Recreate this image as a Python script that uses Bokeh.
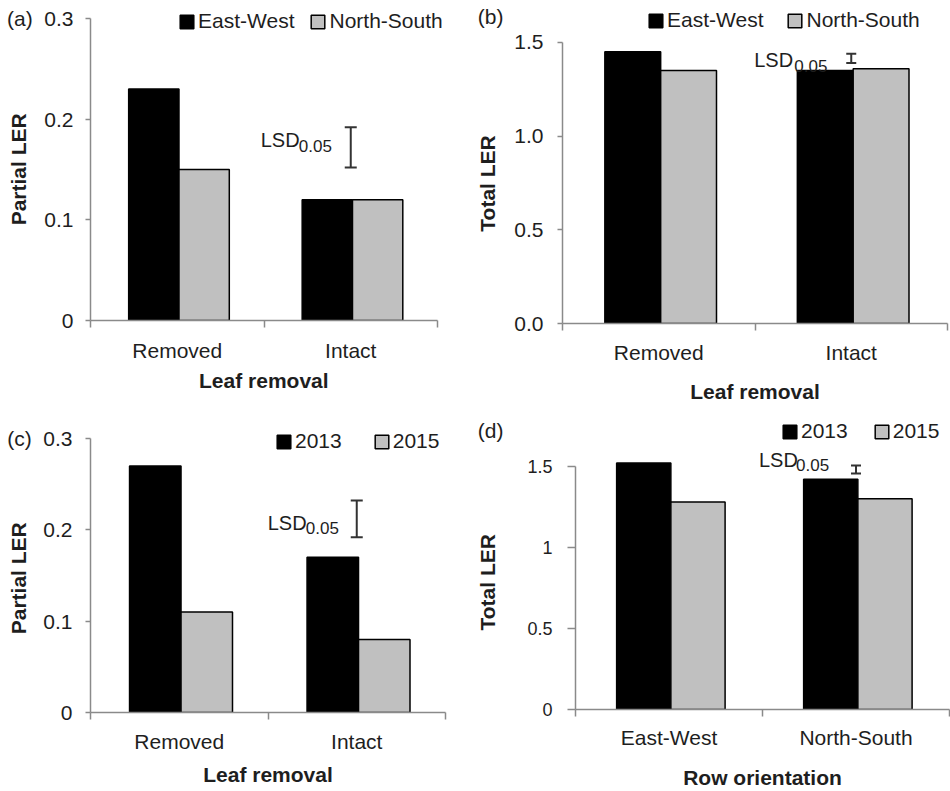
from bokeh.plotting import figure
from bokeh.models import (Range1d, FixedTicker, Legend, LegendItem, Whisker,
                          TeeHead, Label, ColumnDataSource, LinearAxis)
from bokeh.layouts import row, column
from bokeh.embed import file_html
from bokeh.resources import INLINE

FONT = "Liberation Sans"

# ---------------- data ----------------
leaf_categories = ["Removed", "Intact"]
row_categories = ["East-West", "North-South"]

orient_series = ["East-West", "North-South"]
year_series = ["2013", "2015"]

# (a) Partial LER by leaf removal, per row orientation
a_east_west = [0.23, 0.12]
a_north_south = [0.15, 0.12]
a_lsd = [0.152, 0.192]          # lower, upper end of the LSD bar

# (b) Total LER by leaf removal, per row orientation
b_east_west = [1.45, 1.35]
b_north_south = [1.35, 1.36]
b_lsd = [1.39, 1.44]

# (c) Partial LER by leaf removal, per year
c_2013 = [0.27, 0.17]
c_2015 = [0.11, 0.08]
c_lsd = [0.192, 0.232]

# (d) Total LER by row orientation, per year
d_2013 = [1.52, 1.42]
d_2015 = [1.28, 1.30]
d_lsd = [1.455, 1.505]

# y ticks
a_yticks = [0, 0.1, 0.2, 0.3]
a_ylabels = ["0", "0.1", "0.2", "0.3"]
b_yticks = [0, 0.5, 1, 1.5]
b_ylabels = ["0.0", "0.5", "1.0", "1.5"]
c_yticks = [0, 0.1, 0.2, 0.3]
c_ylabels = ["0", "0.1", "0.2", "0.3"]
d_yticks = [0, 0.5, 1, 1.5]
d_ylabels = ["0", "0.5", "1", "1.5"]

BLACK = "#000000"
GREY = "#c0c0c0"
AXIS = "#8a8a8a"
TEXT = "#1e1e1e"
BW = 0.29
SHIFT = 0.01
NB = "\u00a0"


def make_panel(tag, cats, names, s1, s2, lsd, yticks, ylabels, ytitle, xtitle, cfg):
    L, R, T, B = cfg["borders"]
    ymax = yticks[-1]
    p = figure(width=cfg["w"], height=cfg["h"], output_backend="svg", toolbar_location=None,
               title=None, x_range=Range1d(0, cfg["x_end"]), y_range=Range1d(0, cfg["y_top"]),
               min_border_left=L, min_border_right=R, min_border_top=T, min_border_bottom=B)
    p.outline_line_color = None
    p.xgrid.visible = False
    p.ygrid.visible = False
    p.background_fill_color = "white"
    p.border_fill_color = "white"

    centers = [i + 0.5 for i in range(len(cats))]
    src = ColumnDataSource(dict(
        x1=[c + SHIFT - BW / 2 for c in centers], x2=[c + SHIFT + BW / 2 for c in centers],
        s1=s1, s2=s2))
    r1 = p.vbar(x="x1", top="s1", width=BW, source=src, fill_color=BLACK,
                line_color=BLACK, line_width=1.5)
    r2 = p.vbar(x="x2", top="s2", width=BW, source=src, fill_color=GREY,
                line_color=BLACK, line_width=1.5)

    # x axis: labels at category centres, tick marks at category boundaries
    xa = p.xaxis[0]
    xa.ticker = FixedTicker(ticks=centers, minor_ticks=list(range(len(cats) + 1)))
    xa.major_label_overrides = {c: n for c, n in zip(centers, cats)}
    xa.bounds = (0, len(cats))
    xa.major_tick_line_color = None
    xa.major_tick_out = 7
    xa.major_tick_in = 0
    xa.minor_tick_out = 7
    xa.minor_tick_in = 0
    xa.minor_tick_line_color = AXIS
    xa.minor_tick_line_width = 1.5
    xa.axis_line_color = AXIS
    xa.axis_line_width = 1.5
    xa.major_label_text_font = FONT
    xa.major_label_text_font_size = "21px"
    xa.major_label_text_color = TEXT
    xa.major_label_standoff = cfg["x_std"][0]
    xa.axis_label = xtitle + NB * cfg.get("xtitle_pad", 0)
    xa.axis_label_text_font = FONT
    xa.axis_label_text_font_size = "21px"
    xa.axis_label_text_font_style = "bold"
    xa.axis_label_text_color = TEXT
    xa.axis_label_standoff = cfg["x_std"][1]

    ya = p.yaxis[0]
    ya.ticker = FixedTicker(ticks=yticks, minor_ticks=[])
    labels = list(ylabels)
    if cfg["tag_mode"] == "tick":
        labels[-1] = tag + NB + NB + labels[-1]
    ya.major_label_overrides = {t: l for t, l in zip(yticks, labels)}
    ya.bounds = (0, ymax)
    ya.major_tick_out = cfg["ytick"]
    ya.major_tick_in = 0
    ya.major_tick_line_color = AXIS
    ya.major_tick_line_width = 1.5
    ya.minor_tick_line_color = None
    ya.axis_line_color = AXIS
    ya.axis_line_width = 1.5
    ya.major_label_text_font = FONT
    ya.major_label_text_font_size = cfg["ylab_size"]
    ya.major_label_text_color = TEXT
    ya.major_label_standoff = cfg["y_std"][0]

    title_axis = ya
    if cfg["tag_mode"] == "axis":
        # extra left axis that carries only the panel tag and the axis title
        tag_y = cfg["tag_y"]
        ta = LinearAxis(ticker=FixedTicker(ticks=[tag_y], minor_ticks=[]),
                        major_label_overrides={tag_y: tag},
                        axis_line_color=None, major_tick_line_color=None,
                        minor_tick_line_color=None, major_tick_out=0, major_tick_in=0,
                        minor_tick_out=0, minor_tick_in=0,
                        major_label_text_font=FONT, major_label_text_font_size="21px",
                        major_label_text_color=TEXT,
                        major_label_standoff=cfg["tag_std"])
        p.add_layout(ta, "left")
        title_axis = ta
    title_axis.axis_label = ytitle + NB * cfg["title_pad"]
    title_axis.axis_label_text_font = FONT
    title_axis.axis_label_text_font_size = "21px"
    title_axis.axis_label_text_font_style = "bold"
    title_axis.axis_label_text_color = TEXT
    title_axis.axis_label_standoff = cfg["y_std"][1]

    # LSD bar, drawn at the centre of the second category
    lc = cfg["lsd"]
    base = centers[1]
    wsrc = ColumnDataSource(dict(base=[base], lower=[lsd[0]], upper=[lsd[1]]))
    w = Whisker(source=wsrc, base="base", lower="lower", upper="upper", dimension="height",
                line_color="#333333", line_width=2,
                upper_head=TeeHead(size=lc["cap"], line_color="#333333", line_width=2),
                lower_head=TeeHead(size=lc["cap"], line_color="#333333", line_width=2))
    p.add_layout(w)
    p.add_layout(Label(x=base, y=lc["y_main"], x_offset=lc["dx_main"], text="LSD",
                       text_font=FONT, text_font_size="20px", text_color=TEXT,
                       text_align="left", text_baseline="alphabetic"))
    p.add_layout(Label(x=base, y=lc["y_sub"], x_offset=lc["dx_sub"], text="0.05",
                       text_font=FONT, text_font_size="17px", text_color=TEXT,
                       text_align="left", text_baseline="alphabetic"))

    leg = Legend(items=[LegendItem(label=names[0], renderers=[r1]),
                        LegendItem(label=names[1], renderers=[r2])],
                 location=cfg["legend_loc"], orientation="horizontal",
                 glyph_width=17, glyph_height=17, label_standoff=3, spacing=cfg["spacing"],
                 padding=0, margin=0, border_line_color=None, background_fill_alpha=0,
                 label_text_font=FONT, label_text_font_size="21px", label_text_color=TEXT)
    p.add_layout(leg)
    return p


cfg_a = dict(w=472, h=405, borders=(90, 12, 6, 85), y_top=0.31192, x_end=2.13256,
             x_std=(11, 4), xtitle_pad=4, y_std=(12, -26), ytick=5, ylab_size="21px",
             tag_mode="tick", title_pad=2,
             legend_loc=(88, 287), spacing=15,
             lsd=dict(cap=12, y_main=0.1791, y_sub=0.1736, dx_main=-90, dx_sub=-52))

cfg_b = dict(w=478, h=405, borders=(85, 3, 8, 82), y_top=1.68149, x_end=2,
             x_std=(10, 13), y_std=(14, -24), ytick=5, ylab_size="21px",
             tag_mode="axis", tag_y=1.6388, tag_std=8, title_pad=6,
             legend_loc=(85, 291), spacing=23,
             lsd=dict(cap=10, y_main=1.404, y_sub=1.377, dx_main=-97, dx_sub=-57))

cfg_c = dict(w=472, h=386, borders=(90, 27, 21, 79), y_top=0.31314, x_end=2,
             x_std=(10, 7), y_std=(13, -26), ytick=5, ylab_size="21px",
             tag_mode="tick", title_pad=3,
             legend_loc=(185, 259), spacing=31,
             lsd=dict(cap=12, y_main=0.2070, y_sub=0.2015, dx_main=-89, dx_sub=-51))

cfg_d = dict(w=478, h=386, borders=(98, 1, 3, 81), y_top=1.85656, x_end=2,
             x_std=(9, 14), y_std=(15, -24), ytick=8, ylab_size="18px",
             tag_mode="axis", tag_y=1.7213, tag_std=21, title_pad=8,
             legend_loc=(206, 266), spacing=25,
             lsd=dict(cap=10, y_main=1.5368, y_sub=1.5061, dx_main=-97, dx_sub=-60))

pa = make_panel("(a)", leaf_categories, orient_series, a_east_west, a_north_south, a_lsd,
                a_yticks, a_ylabels, "Partial LER", "Leaf removal", cfg_a)
pb = make_panel("(b)", leaf_categories, orient_series, b_east_west, b_north_south, b_lsd,
                b_yticks, b_ylabels, "Total LER", "Leaf removal", cfg_b)
pc = make_panel("(c)", leaf_categories, year_series, c_2013, c_2015, c_lsd,
                c_yticks, c_ylabels, "Partial LER", "Leaf removal", cfg_c)
pd_ = make_panel("(d)", row_categories, year_series, d_2013, d_2015, d_lsd,
                 d_yticks, d_ylabels, "Total LER", "Row orientation", cfg_d)

layout = column(row(column(pa), column(pb)), row(column(pc), column(pd_)))

open("out.html", "w").write(file_html(layout, INLINE))
